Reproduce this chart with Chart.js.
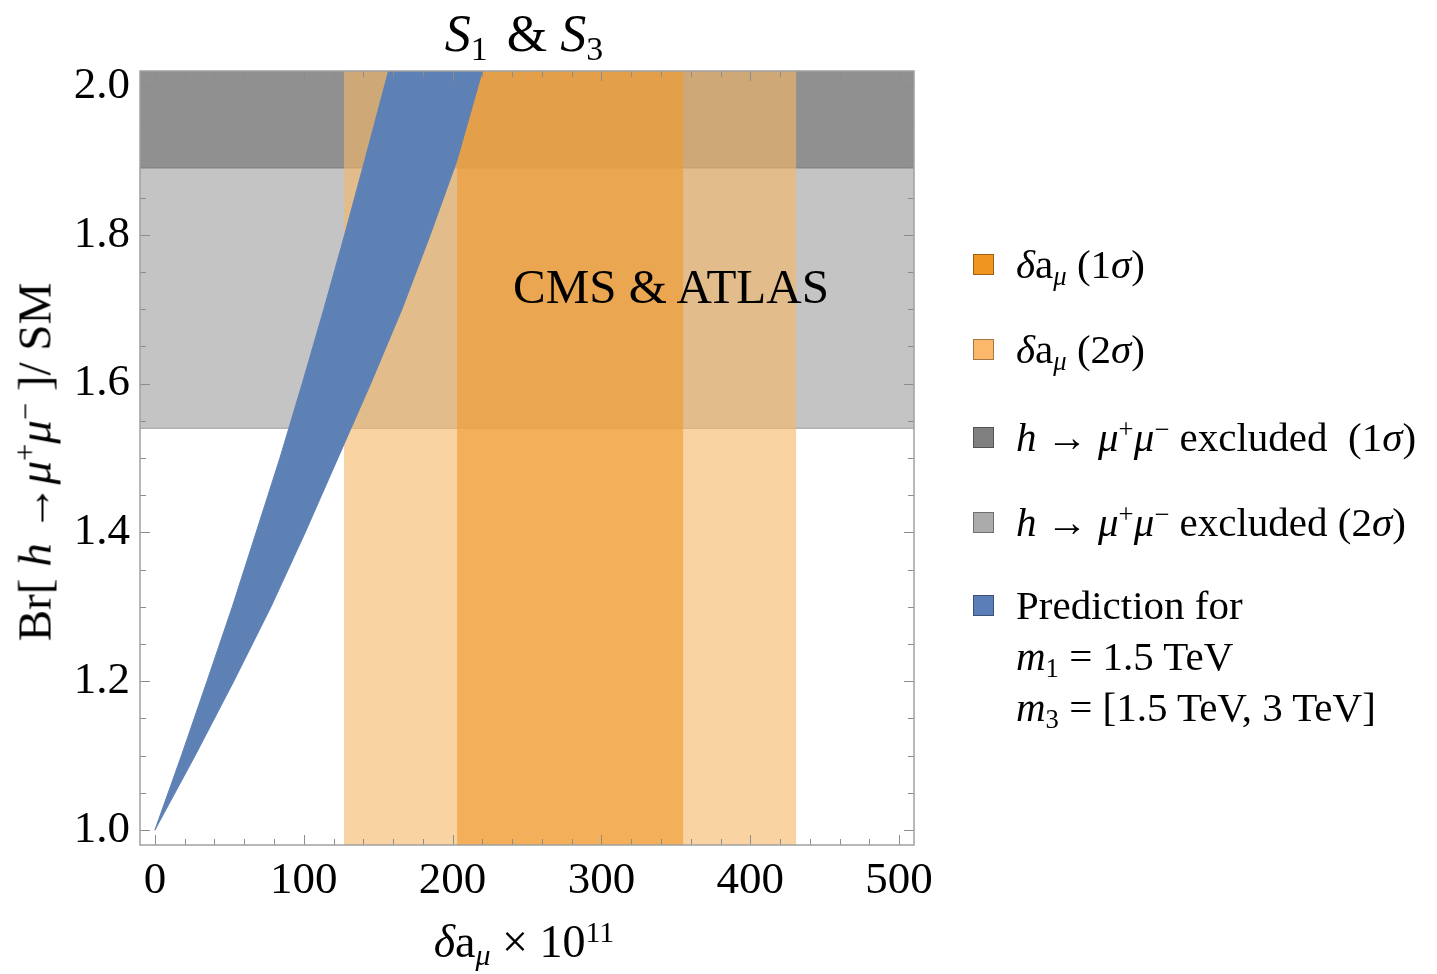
<!DOCTYPE html>
<html>
<head>
<meta charset="utf-8">
<script src="https://cdn.jsdelivr.net/npm/chart.js@4.4.0/dist/chart.umd.min.js"></script>
<style>
  body { margin: 0; background: #fff; }
  #wrap { position: relative; width: 1437px; height: 974px; font-family: "Liberation Serif", "Times New Roman", serif; color: #000; }
  #chart { position: absolute; left: 0; top: 0; }
  .txt { position: absolute; white-space: nowrap; line-height: 1; }
  sub { font-size: 65%; vertical-align: -0.28em; line-height: 0; }
  sup { font-size: 65%; vertical-align: 0.5em; line-height: 0; }
  .legend-row { position: absolute; left: 973px; white-space: nowrap; font-size: 41px; line-height: 51px; }
  .legend-row .box { position: absolute; left: 0; top: 15px; width: 19px; height: 19px; border: 1px solid rgba(0,0,0,0.35); }
  .legend-row .label { position: absolute; left: 43px; top: 0; }
</style>
</head>
<body>
<div id="wrap">
  <canvas id="chart" width="1437" height="974"></canvas>

  <div class="txt" style="left:524px; top:34px; font-size:52px; transform:translate(-50%,-50%);">
    <i>S</i><sub>1</sub> <span style="margin-left:6px">&amp;</span> <i>S</i><sub>3</sub>
  </div>
  <div class="txt" style="left:524px; top:942px; font-size:46px; transform:translate(-50%,-50%);">
    <i>δ</i>a<sub><i>μ</i></sub> × 10<sup>11</sup>
  </div>
  <div class="txt" style="left:35px; top:462px; font-size:47px; transform:translate(-50%,-50%) rotate(-90deg);">
    Br[ <i>h</i> →<i>μ</i><sup>+</sup><i>μ</i><sup>−</sup> ]/ SM
  </div>
  <div class="txt" style="left:671px; top:286px; font-size:49px; transform:translate(-50%,-50%);">
    CMS &amp; ATLAS
  </div>

  <div id="legend"></div>
</div>

<script>
// axis ranges and tick labels
const xMin = -10, xMax = 510;
const yMin = 0.98, yMax = 2.02;
const xTicks = [0, 100, 200, 300, 400, 500];
const yTicks = [1.0, 1.2, 1.4, 1.6, 1.8, 2.0];

// delta a_mu bands (x 10^11)
const amu1Sigma = [203, 355];
const amu2Sigma = [127, 431];

// h -> mu mu exclusion (lower bounds of excluded Br ratio)
const hmmExcl1Sigma = 1.89;
const hmmExcl2Sigma = 1.54;

// prediction band edges
const predY      = [1.0, 1.1, 1.2, 1.3, 1.4, 1.5, 1.6, 1.7, 1.8, 1.9, 2.02];
const predUpperX = [0, 17.8, 35, 52, 68, 84, 99, 113.5, 127.5, 141, 157];
const predLowerX = [0, 27, 53, 78, 101, 123, 145, 166, 185, 203, 220];

const legendLabels = [
  '<i>δ</i>a<sub><i>μ</i></sub> (1<i>σ</i>)',
  '<i>δ</i>a<sub><i>μ</i></sub> (2<i>σ</i>)',
  '<i>h</i> → <i>μ</i><sup>+</sup><i>μ</i><sup>−</sup> excluded&nbsp; (1<i>σ</i>)',
  '<i>h</i> → <i>μ</i><sup>+</sup><i>μ</i><sup>−</sup> excluded (2<i>σ</i>)',
  'Prediction for<br><i>m</i><sub>1</sub> = 1.5 TeV<br><i>m</i><sub>3</sub> = [1.5 TeV, 3 TeV]'
];
const legendColors = ['#f0951f', '#fbb86b', '#808080', '#ababab', '#5b7db8'];
const legendTops = [239, 324, 412, 497, 580];

// legend
const legend = document.getElementById('legend');
legendLabels.forEach((html, i) => {
  const row = document.createElement('div');
  row.className = 'legend-row';
  row.style.top = legendTops[i] + 'px';
  row.innerHTML = '<span class="box" style="background:' + legendColors[i] + '"></span><span class="label">' + html + '</span>';
  legend.appendChild(row);
});

const predShape = predUpperX.map((x, i) => ({ x: x, y: predY[i] }))
  .concat(predLowerX.map((x, i) => ({ x: x, y: predY[i] })).reverse());

// frame with inward ticks on all four sides
const framePlugin = {
  id: 'frame',
  afterDatasetsDraw(chart) {
    const { ctx, chartArea: a, scales: { x, y } } = chart;
    ctx.save();
    ctx.strokeStyle = '#8c8c8c';
    ctx.lineWidth = 1;
    ctx.beginPath();
    for (let v = 0; v <= 500; v += 20) {
      const px = Math.round(x.getPixelForValue(v)) + 0.5;
      const len = v % 100 === 0 ? 10 : 6;
      ctx.moveTo(px, a.bottom); ctx.lineTo(px, a.bottom - len);
      ctx.moveTo(px, a.top); ctx.lineTo(px, a.top + len);
    }
    for (let k = 0; k <= 20; k++) {
      const py = Math.round(y.getPixelForValue(1 + k * 0.05)) + 0.5;
      const len = k % 4 === 0 ? 10 : 6;
      ctx.moveTo(a.left, py); ctx.lineTo(a.left + len, py);
      ctx.moveTo(a.right, py); ctx.lineTo(a.right - len, py);
    }
    ctx.stroke();
    ctx.strokeStyle = '#a0a0a0';
    ctx.lineWidth = 1.5;
    ctx.strokeRect(a.left, a.top, a.right - a.left, a.bottom - a.top);
    ctx.restore();
  }
};

const tickFont = { family: 'Liberation Serif', size: 45 };

new Chart(document.getElementById('chart').getContext('2d'), {
  type: 'scatter',
  data: {
    datasets: [
      {
        label: 'Prediction',
        data: predShape,
        showLine: true,
        fill: 'shape',
        backgroundColor: '#5e81b5',
        borderColor: '#5e81b5',
        borderWidth: 1,
        pointRadius: 0,
        order: 0
      },
      {
        label: 'δaμ (1σ)',
        data: [{ x: amu1Sigma[0], y: yMax }, { x: amu1Sigma[1], y: yMax }],
        showLine: true,
        fill: 'start',
        backgroundColor: 'rgba(241,153,46,0.62)',
        borderWidth: 0,
        pointRadius: 0,
        order: 1
      },
      {
        label: 'δaμ (2σ)',
        data: [{ x: amu2Sigma[0], y: yMax }, { x: amu2Sigma[1], y: yMax }],
        showLine: true,
        fill: 'start',
        backgroundColor: 'rgba(245,183,101,0.61)',
        borderWidth: 0,
        pointRadius: 0,
        order: 2
      },
      {
        label: 'h→μμ excluded (1σ)',
        data: [{ x: xMin, y: hmmExcl1Sigma }, { x: xMax, y: hmmExcl1Sigma }],
        showLine: true,
        fill: 'end',
        backgroundColor: '#909090',
        borderColor: '#858585',
        borderWidth: 1.5,
        pointRadius: 0,
        order: 3
      },
      {
        label: 'h→μμ excluded (2σ)',
        data: [{ x: xMin, y: hmmExcl2Sigma }, { x: xMax, y: hmmExcl2Sigma }],
        showLine: true,
        fill: 'end',
        backgroundColor: '#c4c4c4',
        borderColor: '#b2b2b2',
        borderWidth: 1.5,
        pointRadius: 0,
        order: 4
      }
    ]
  },
  options: {
    responsive: false,
    animation: false,
    layout: { padding: { left: 0, right: 523, top: 71, bottom: 0 } },
    plugins: {
      legend: { display: false },
      tooltip: { enabled: false },
      title: { display: false }
    },
    scales: {
      x: {
        type: 'linear',
        min: xMin,
        max: xMax,
        grid: { display: false, drawTicks: false },
        border: { display: false },
        ticks: { font: tickFont, color: '#000', padding: 9, maxRotation: 0, callback: v => String(v) },
        afterBuildTicks: s => { s.ticks = xTicks.map(v => ({ value: v })); },
        afterFit: s => { s.height = 129; }
      },
      y: {
        type: 'linear',
        min: yMin,
        max: yMax,
        grid: { display: false, drawTicks: false },
        border: { display: false },
        ticks: { font: tickFont, color: '#000', padding: 10, callback: v => v.toFixed(1) },
        afterBuildTicks: s => { s.ticks = yTicks.map(v => ({ value: v })); },
        afterFit: s => { s.width = 140; }
      }
    }
  },
  plugins: [framePlugin]
});
</script>
</body>
</html>
